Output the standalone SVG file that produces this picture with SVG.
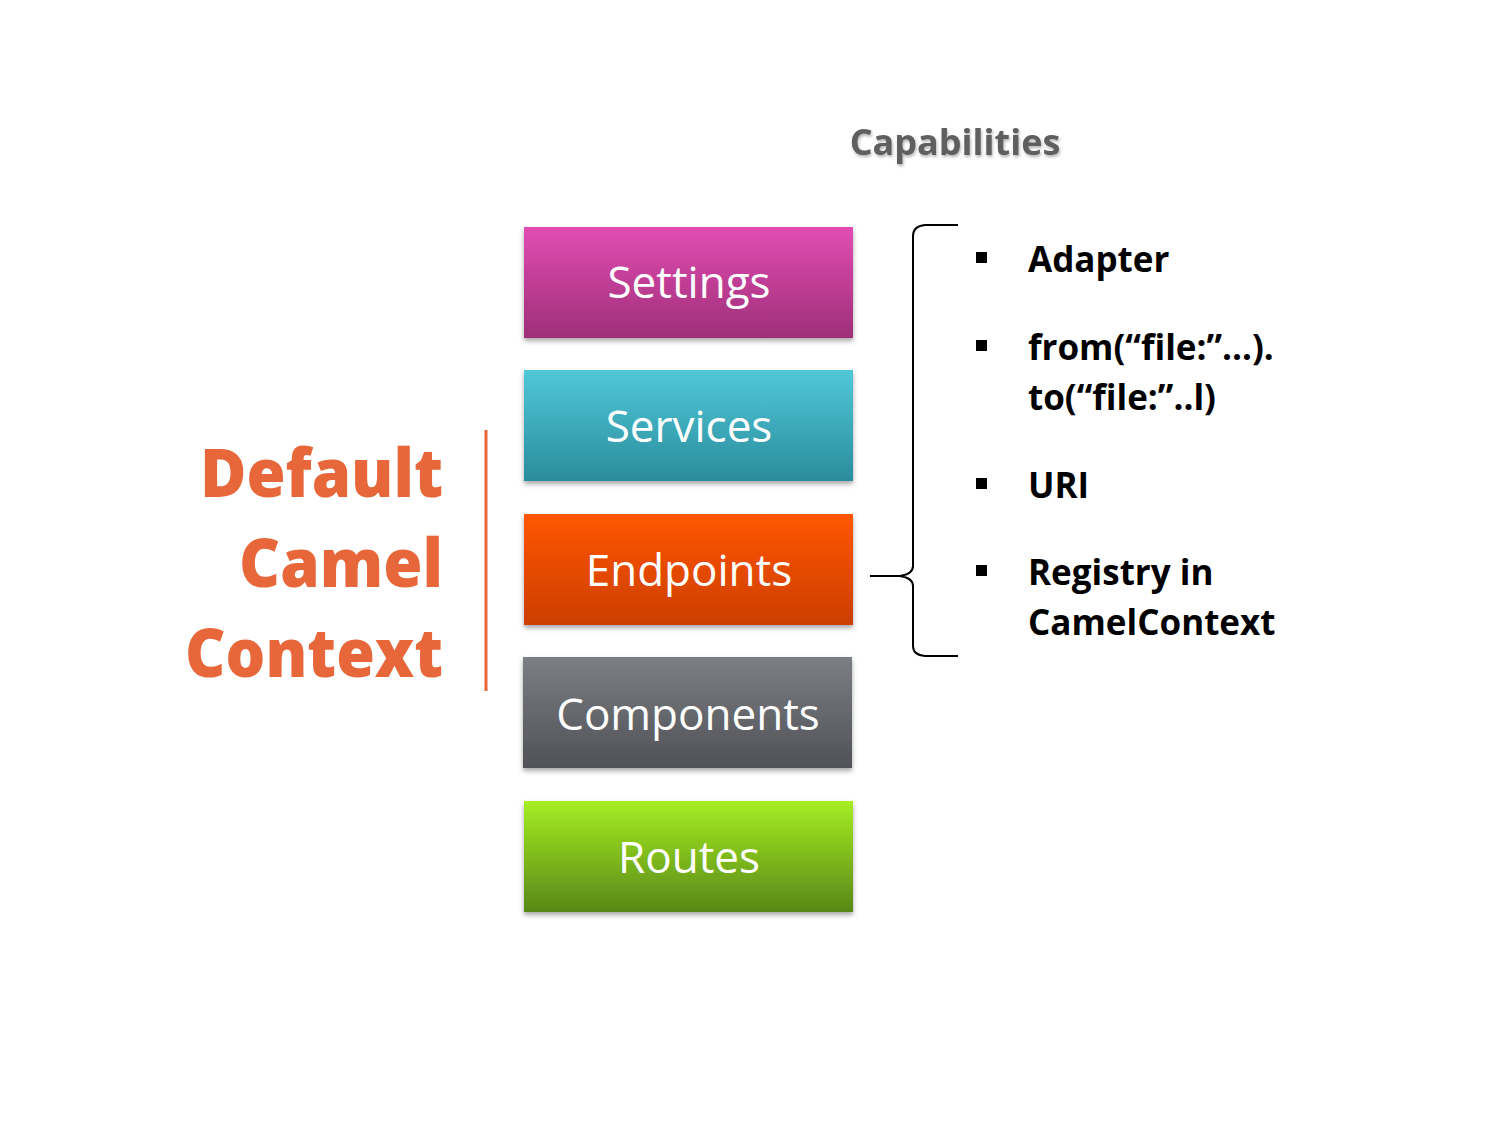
<svg xmlns="http://www.w3.org/2000/svg" width="1500" height="1125" viewBox="0 0 1500 1125">
<defs>
<linearGradient id="gSet" x1="0" y1="0" x2="0" y2="1"><stop offset="0" stop-color="#e24db3"/><stop offset="1" stop-color="#9e2f78"/></linearGradient>
<linearGradient id="gSrv" x1="0" y1="0" x2="0" y2="1"><stop offset="0" stop-color="#50c8d8"/><stop offset="1" stop-color="#2a8c9c"/></linearGradient>
<linearGradient id="gEnd" x1="0" y1="0" x2="0" y2="1"><stop offset="0" stop-color="#ff5605"/><stop offset="1" stop-color="#cc3e00"/></linearGradient>
<linearGradient id="gCmp" x1="0" y1="0" x2="0" y2="1"><stop offset="0" stop-color="#7b7e83"/><stop offset="1" stop-color="#505257"/></linearGradient>
<linearGradient id="gRte" x1="0" y1="0" x2="0" y2="1"><stop offset="0" stop-color="#a6ee22"/><stop offset="1" stop-color="#578718"/></linearGradient>
<filter id="sh" x="-10%" y="-10%" width="120%" height="130%"><feDropShadow dx="0" dy="3" stdDeviation="2.5" flood-color="#000" flood-opacity="0.35"/></filter>
<filter id="tsh" x="-5%" y="-20%" width="110%" height="150%"><feDropShadow dx="1" dy="2" stdDeviation="1.5" flood-color="#000" flood-opacity="0.3"/></filter>
</defs>
<style>
.box{filter:url(#sh);}
.bt{font-family:"Open Sans","Noto Sans",sans-serif;font-size:44px;fill:#fff;text-anchor:middle;}
.big{font-family:"Open Sans","Noto Sans",sans-serif;font-weight:800;font-size:67px;fill:#e8673a;}
.it{font-family:"Open Sans","Noto Sans",sans-serif;font-weight:bold;font-size:35px;fill:#000;}
.bul{fill:#000;}
</style>
<rect width="1500" height="1125" fill="#fff"/>
<text x="955" y="155" font-family="'Open Sans','Noto Sans',sans-serif" font-weight="bold" font-size="36" fill="#5e5e60" text-anchor="middle" filter="url(#tsh)">Capabilities</text>
<g id="label-context">
<text class="big" x="200" y="497" textLength="243" lengthAdjust="spacingAndGlyphs">Default</text>
<text class="big" x="239" y="587" textLength="204" lengthAdjust="spacingAndGlyphs">Camel</text>
<text class="big" x="185" y="677" textLength="258" lengthAdjust="spacingAndGlyphs">Context</text>
</g>
<g id="connectors">
<line x1="486" y1="430" x2="486" y2="691" stroke="#e8673a" stroke-width="3"/>
<path d="M958,225 L925,225 Q913,226 913,236 L913,566 Q913,574 900,576 L870,576 M900,576 Q913,578 913,586 L913,646 Q913,655 925,656 L958,656" fill="none" stroke="#000" stroke-width="2"/>
</g>
<g id="node-settings"><rect class="box" x="524" y="227" width="329" height="111" fill="url(#gSet)"/><text class="bt" x="689" y="298">Settings</text></g>
<g id="node-services"><rect class="box" x="524" y="370" width="329" height="111" fill="url(#gSrv)"/><text class="bt" x="689" y="442">Services</text></g>
<g id="node-endpoints"><rect class="box" x="524" y="514" width="329" height="111" fill="url(#gEnd)"/><text class="bt" x="689" y="586">Endpoints</text></g>
<g id="node-components"><rect class="box" x="523" y="657" width="329" height="111" fill="url(#gCmp)"/><text class="bt" x="688" y="730">Components</text></g>
<g id="node-routes"><rect class="box" x="524" y="801" width="329" height="111" fill="url(#gRte)"/><text class="bt" x="689" y="873">Routes</text></g>
<g id="capabilities-list">
<rect class="bul" x="976" y="252" width="11" height="11"/>
<text class="it" x="1028" y="272">Adapter</text>
<rect class="bul" x="976" y="340" width="11" height="11"/>
<text class="it" x="1028" y="360">from(“file:”…).</text>
<text class="it" x="1028" y="410">to(“file:”..l)</text>
<rect class="bul" x="976" y="478" width="11" height="11"/>
<text class="it" x="1028" y="498">URI</text>
<rect class="bul" x="976" y="565" width="11" height="11"/>
<text class="it" x="1028" y="585">Registry in</text>
<text class="it" x="1028" y="635">CamelContext</text>
</g>
</svg>
